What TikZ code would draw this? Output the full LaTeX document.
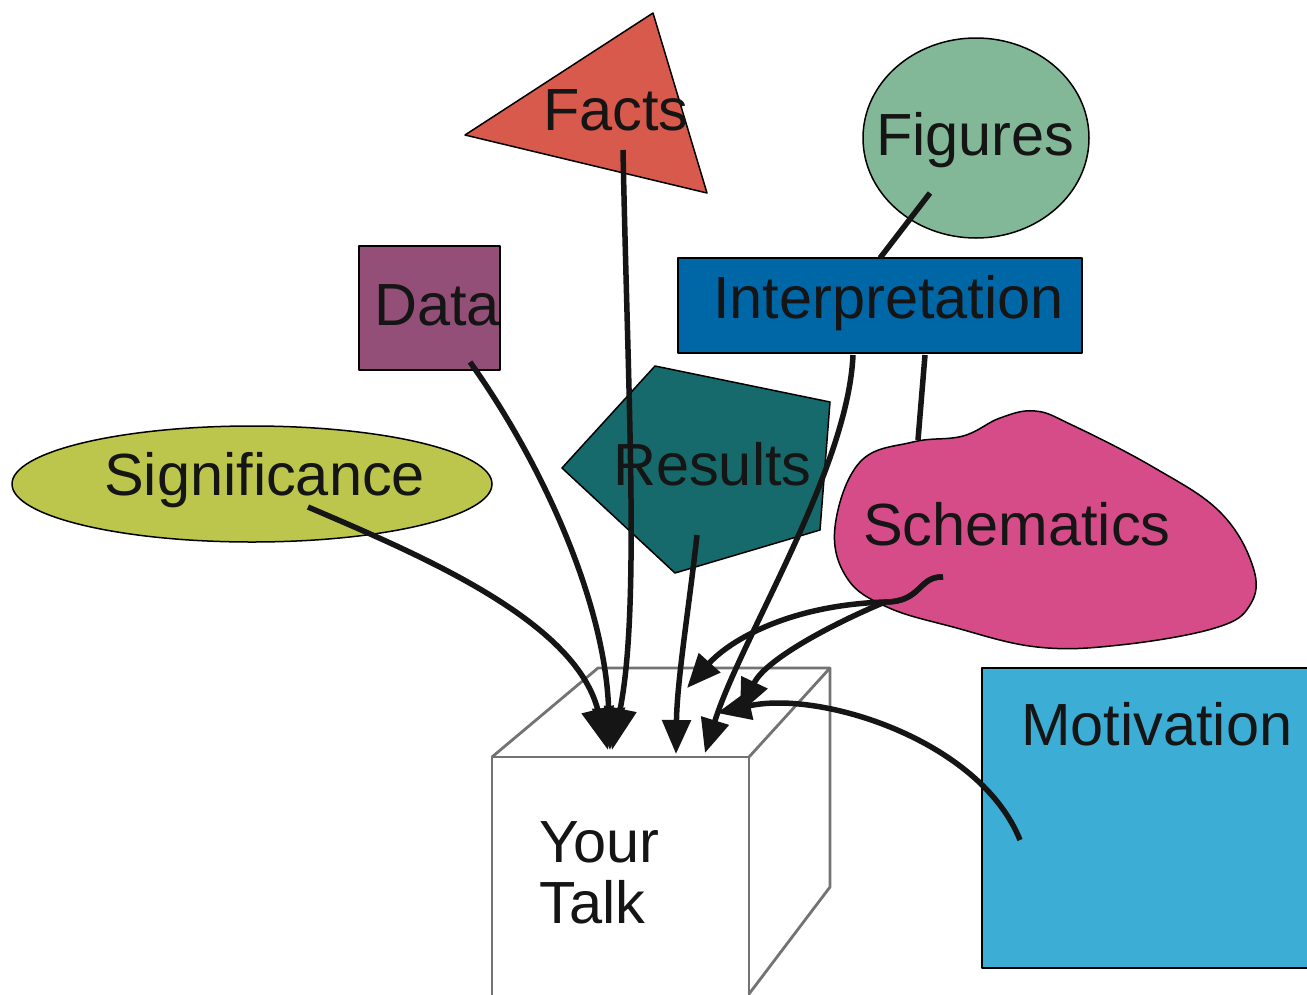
\documentclass[tikz,border=0pt]{standalone}
\usepackage{fontspec}
\setmainfont{Liberation Sans}
\usetikzlibrary{arrows.meta}
\definecolor{factsc}{HTML}{D85A4C}
\definecolor{figc}{HTML}{82B898}
\definecolor{interc}{HTML}{0067A7}
\definecolor{datac}{HTML}{934F77}
\definecolor{sigc}{HTML}{BCC64C}
\definecolor{resc}{HTML}{176A6B}
\definecolor{schc}{HTML}{D64C89}
\definecolor{motc}{HTML}{3CAED6}
\definecolor{inkc}{HTML}{151515}
\begin{document}
\begin{tikzpicture}[x=1pt,y=-1pt,
  shapeline/.style={draw=black, line width=1.5pt, line join=round},
  lbl/.style={anchor=base west, inner sep=0pt, text=inkc, font=\fontsize{59.5}{63}\selectfont},
  conn/.style={line width=5.5pt, draw=inkc},
  arr/.style={conn, -{Triangle[length=34pt,width=28pt]}},
  bigarr/.style={conn, -{Triangle[length=42pt,width=32pt]}},
  cubeline/.style={draw=black!55, line width=2.8pt, line join=round}]
\clip (0,0) rectangle (1307,994);
\fill[white] (0,0) rectangle (1307,994);

% shapes
\path[shapeline, fill=factsc] (465,135) -- (653,13) -- (707,193) -- cycle;
\path[shapeline, fill=figc] (976,138) ellipse [x radius=113, y radius=100];
\path[shapeline, fill=interc] (678,258) rectangle (1082,353);
\path[shapeline, fill=datac] (359,246) rectangle (500,370);
\path[shapeline, fill=sigc] (252,484) ellipse [x radius=240, y radius=58];
\path[shapeline, fill=resc] (562,468) -- (655,366) -- (830,402) -- (820,530) -- (675,573) -- cycle;
\path[shapeline, fill=schc] plot[smooth cycle, tension=0.65] coordinates {
  (835,527) (860,462) (913,442) (963,436) (1000,418) (1035,411) (1072,425)
  (1153,467) (1220,512) (1253,567) (1250,605) (1215,628) (1120,645)
  (1037,647) (953,627) (887,607) (847,578)};
\path[shapeline, fill=motc] (982,668) rectangle (1320,968);

% cube
\draw[cubeline] (492,1000) -- (492,757) -- (749,757) -- (749,1000);
\draw[cubeline] (492,757) -- (598,668) -- (830,668) -- (749,757);
\draw[cubeline] (830,668) -- (830,887) -- (749,994);

% labels
\node[lbl] (facts) at (543,130) {Facts};
\node[lbl] (figures) at (876,155) {Figures};
\node[lbl] (interp) at (713,318) {Interpretation};
\node[lbl] (data) at (374,325) {Data};
\node[lbl] (sig) at (104,495) {Significance};
\node[lbl] (results) at (613,485) {Results};
\node[lbl] (schem) at (863,545) {Schematics};
\node[lbl] (motiv) at (1021,745) {Motivation};
\node[lbl] (your) at (539,862) {Your};
\node[lbl] (talk) at (539,923) {Talk};

% connector end points
\coordinate (sigS) at (308,507);
\coordinate (dataS) at (470,362);
\coordinate (factsS) at (623,150);
\coordinate (resS) at (697,535);
\coordinate (intS) at (853,355);
\coordinate (intS2) at (925,355);
\coordinate (schTop) at (918,440);
\coordinate (figS) at (930,193);
\coordinate (intTop) at (880,258);
\coordinate (schS) at (943,577);
\coordinate (motS) at (1020,840);
\coordinate (tipA) at (608,750);
\coordinate (tipB) at (610,750);
\coordinate (tipC) at (612,750);
\coordinate (tipR) at (676,754);
\coordinate (tipI) at (705,753);
\coordinate (tipSa) at (687,688);
\coordinate (tipSb) at (740,713);
\coordinate (tipM) at (717,713);

% connectors
\draw[conn] (figS) -- (intTop);
\draw[conn] (intS2) -- (schTop);
\draw[bigarr] (sigS) .. controls (420,555) and (575,620) .. (tipA);
\draw[bigarr] (dataS) .. controls (540,460) and (605,600) .. (tipB);
\draw[bigarr] (factsS) .. controls (628,400) and (640,610) .. (tipC);
\draw[arr] (resS) .. controls (690,600) and (677,680) .. (tipR);
\draw[arr] (intS) .. controls (848,470) and (740,640) .. (tipI);
\draw[arr] (schS) .. controls (918,576) and (922,602) .. (885,602) .. controls (790,605) and (730,640) .. (tipSa);
\draw[arr] (schS) .. controls (918,576) and (922,602) .. (885,602) .. controls (830,625) and (765,660) .. (tipSb);
\draw[arr] (motS) .. controls (980,740) and (820,690) .. (tipM);
\end{tikzpicture}
\end{document}
